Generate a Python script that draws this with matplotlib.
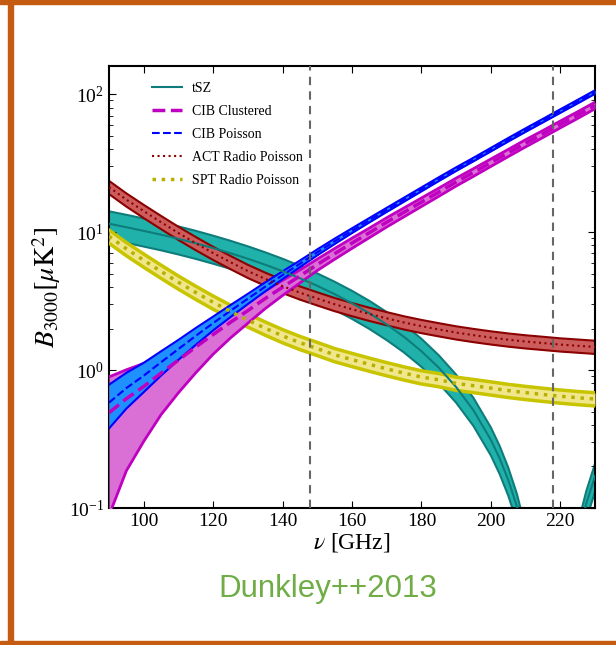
import numpy as np
import matplotlib
matplotlib.use('Agg')
import matplotlib.pyplot as plt
from matplotlib.patches import Rectangle

# frequency grid (GHz) and band powers B_3000 [uK^2]
nu = np.arange(90, 231, 5)

tsz_nu = [90, 95, 100, 105, 110, 115, 120, 125, 130, 135, 140, 145, 150, 155, 160,
          165, 170, 175, 180, 185, 190, 195, 200, 202.5, 205, 207.5, 210, 212.5,
          215, 220, 222.5, 225, 227.5, 230]
tsz = [11.5, 10.85, 10.2, 9.58, 8.94, 8.30, 7.66, 7.03, 6.41, 5.80, 5.21, 4.63, 4.08,
       3.55, 3.05, 2.58, 2.14, 1.74, 1.37, 1.04, 0.753, 0.510, 0.312, 0.230, 0.160,
       0.103, 0.058, 0.026, 0.0064, 0.0068, 0.027, 0.061, 0.108, 0.170]
tsz_err = 0.23

cib_cl = [0.49, 0.62, 0.76, 0.95, 1.18, 1.47, 1.81, 2.22, 2.70, 3.30, 3.99, 4.81, 5.82,
          6.98, 8.33, 9.90, 11.8, 13.95, 16.5, 19.5, 23.1, 27.1, 31.9, 37.5, 44.1, 51.5,
          60.4, 70.6, 82.9]
cib_cl_err_hi = [0.82, 0.62, 0.47, 0.37, 0.30, 0.25, 0.21, 0.18, 0.155, 0.135, 0.12, 0.105,
                 0.095, 0.09, 0.085, 0.08, 0.077, 0.074, 0.071, 0.068, 0.066, 0.064, 0.062,
                 0.06, 0.06, 0.058, 0.057, 0.056, 0.055]
cib_cl_err_lo = [0.82, 0.70, 0.60, 0.50, 0.42, 0.35, 0.28, 0.23, 0.19, 0.155, 0.13, 0.11,
                 0.095, 0.09, 0.085, 0.08, 0.077, 0.074, 0.071, 0.068, 0.066, 0.064, 0.062,
                 0.06, 0.06, 0.058, 0.057, 0.056, 0.055]

cib_p = [0.58, 0.74, 0.91, 1.14, 1.42, 1.77, 2.19, 2.69, 3.29, 4.02, 4.88, 5.90, 7.14, 8.58,
         10.25, 12.2, 14.5, 17.2, 20.4, 24.2, 28.6, 33.6, 39.6, 46.7, 54.9, 64.3, 75.4,
         88.3, 103.6]
cib_p_err = [0.35, 0.29, 0.24, 0.20, 0.165, 0.14, 0.115, 0.10, 0.085, 0.075, 0.065, 0.055,
             0.05, 0.045, 0.04, 0.037, 0.035, 0.034, 0.033, 0.032, 0.031, 0.03, 0.03, 0.03,
             0.03, 0.03, 0.03, 0.03, 0.03]

act_rad = [21.2, 17.2, 14.2, 11.8, 9.85, 8.3, 7.05, 6.05, 5.22, 4.58, 4.06, 3.64, 3.30,
           3.00, 2.76, 2.55, 2.37, 2.21, 2.08, 1.97, 1.87, 1.79, 1.72, 1.66, 1.61, 1.57,
           1.53, 1.50, 1.47]
act_err = 0.11

spt_rad = [9.33, 7.57, 6.25, 5.19, 4.33, 3.65, 3.10, 2.66, 2.30, 2.01, 1.77, 1.58, 1.43,
           1.29, 1.19, 1.10, 1.02, 0.95, 0.89, 0.85, 0.80, 0.77, 0.74, 0.71, 0.686, 0.665,
           0.646, 0.63, 0.617]
spt_err = 0.11

ref_freqs = [148, 218]

plt.rcParams['font.family'] = 'serif'
plt.rcParams['font.serif'] = ['Liberation Serif', 'DejaVu Serif']
plt.rcParams['mathtext.fontset'] = 'stix'


def plot_band(ax, x, c, e_lo, e_hi, fill, edge, elw, z):
    c = np.asarray(c)
    lo = c * (1 - np.asarray(e_lo))
    hi = c * (1 + np.asarray(e_hi))
    ax.fill_between(x, lo, hi, color=fill, lw=0, zorder=z)
    ax.plot(x, lo, color=edge, lw=elw, zorder=z + 0.1)
    ax.plot(x, hi, color=edge, lw=elw, zorder=z + 0.1)


fig = plt.figure(figsize=(6.16, 6.45), dpi=100)
ax = fig.add_axes([109 / 616, 1 - 508 / 645, 486 / 616, 442 / 645])

plot_band(ax, tsz_nu, tsz, tsz_err, tsz_err, '#20B2AA', '#0e7c7b', 1.5, 1)
plot_band(ax, nu, act_rad, act_err, act_err, '#CD5C5C', '#8B0000', 1.5, 2)
plot_band(ax, nu, spt_rad, spt_err, spt_err, '#F0E68C', '#C8C400', 2.5, 3)
plot_band(ax, nu, cib_cl, cib_cl_err_lo, cib_cl_err_hi, '#DA70D6', '#C000C0', 2, 4)
plot_band(ax, nu, cib_p, cib_p_err, cib_p_err, '#1E90FF', '#0000FF', 1.5, 5)

l1, = ax.plot(tsz_nu, tsz, color='#0e7c7b', lw=1.5, zorder=6)
l2, = ax.plot(nu, cib_cl, color='#C000C0', lw=2.5, ls='--', zorder=6)
l3, = ax.plot(nu, cib_p, color='#0000FF', lw=1.5, ls='--', zorder=6)
l4, = ax.plot(nu, act_rad, color='#8B0000', lw=1.5, ls=':', zorder=6)
l5, = ax.plot(nu, spt_rad, color='#B8B000', lw=2.5, ls=':', zorder=6)

for f in ref_freqs:
    ax.axvline(f, color='#666666', ls='--', lw=1.5, dashes=(4, 3), zorder=7)

ax.set_yscale('log')
ax.set_xlim(90, 230)
ax.set_ylim(0.1, 160)
ax.set_xticks(np.arange(100, 221, 20))
ax.tick_params(which='both', direction='in', top=True, right=True, labelsize=14)
ax.tick_params(which='major', length=5)
ax.tick_params(which='minor', length=3)
for s in ax.spines.values():
    s.set_linewidth(1.5)

ax.set_xlabel(r'$\nu$ [GHz]', fontsize=17, labelpad=1)
ax.set_ylabel(r'$B_{3000}[\mu{\rm K}^2]$', fontsize=20, labelpad=4)

ax.legend([l1, l2, l3, l4, l5],
          ['tSZ', 'CIB Clustered', 'CIB Poisson', 'ACT Radio Poisson', 'SPT Radio Poisson'],
          loc='upper left', bbox_to_anchor=(0.062, 0.993), frameon=False, fontsize=10,
          handlelength=2.2, handletextpad=0.7, labelspacing=0.72)

fig.text(328 / 616, 1 - 597 / 645, 'Dunkley++2013', color='#70AD47', fontsize=22.5,
         family='Liberation Sans', ha='center', va='baseline')

# orange slide frame
orange = '#C55A11'
fig.patches.append(Rectangle((8 / 616, 0), 5 / 616, 1, transform=fig.transFigure,
                             color=orange, zorder=10))
fig.patches.append(Rectangle((0, 1 - 4 / 645), 1, 4 / 645, transform=fig.transFigure,
                             color=orange, zorder=10))
fig.patches.append(Rectangle((0, 0), 1, 4 / 645, transform=fig.transFigure,
                             color=orange, zorder=10))

fig.savefig('out.png', dpi=100)
